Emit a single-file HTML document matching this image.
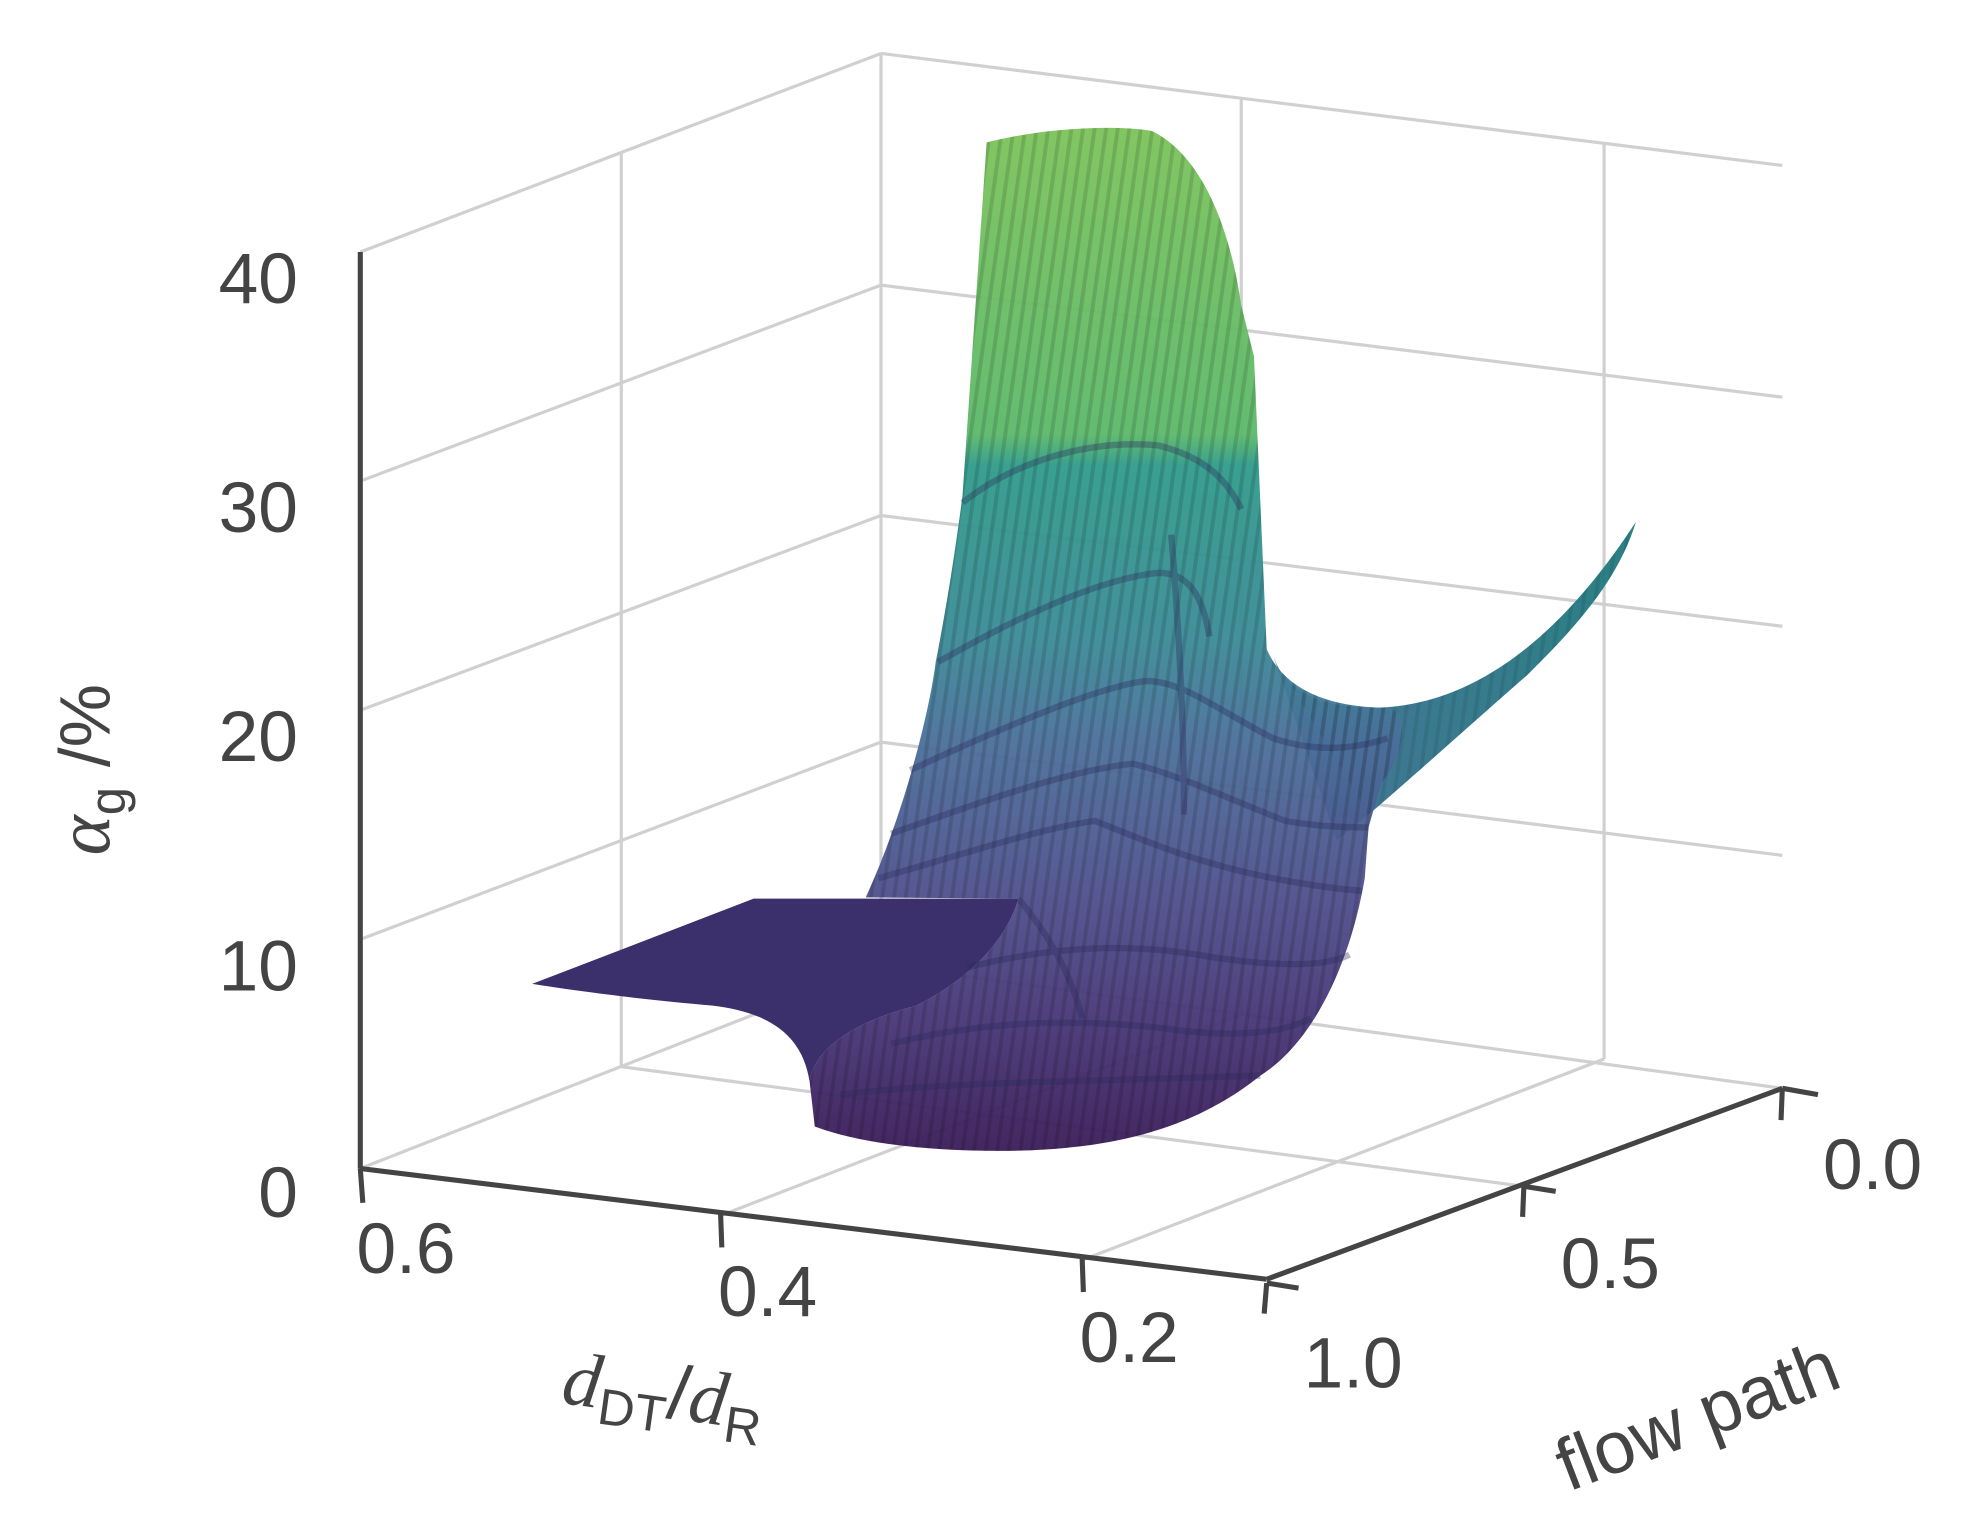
<!DOCTYPE html>
<html><head><meta charset="utf-8"><style>
html,body{margin:0;padding:0;background:#fff}
svg{display:block}
text{font-family:"Liberation Sans",sans-serif;fill:#444}
</style></head><body>
<svg width="1986" height="1530" viewBox="0 0 1560 1202" preserveAspectRatio="none" xmlns="http://www.w3.org/2000/svg">
<defs>
<linearGradient id="g" x1="0" y1="100" x2="0" y2="905" gradientUnits="userSpaceOnUse">
<stop offset="0" stop-color="#7cc35a"/>
<stop offset="0.3" stop-color="#5bb86a"/>
<stop offset="0.33" stop-color="#2f9b8a"/>
<stop offset="0.5" stop-color="#3a8a96"/>
<stop offset="0.6" stop-color="#4a6f9a"/>
<stop offset="0.75" stop-color="#4e4f8c"/>
<stop offset="0.88" stop-color="#463475"/>
<stop offset="1" stop-color="#3a1b58"/>
</linearGradient>
<linearGradient id="w" x1="1000" y1="0" x2="1285" y2="0" gradientUnits="userSpaceOnUse">
<stop offset="0" stop-color="#3d6d92"/><stop offset="1" stop-color="#1f7a7e"/>
</linearGradient>
<pattern id="st" width="9" height="40" patternUnits="userSpaceOnUse" patternTransform="rotate(8)">
<rect width="3" height="40" fill="#000" opacity="0.13"/>
</pattern>
</defs>
<g stroke="#d0d0d0" stroke-width="2.5" fill="none">
<line x1="283" y1="918" x2="692" y2="758"/>
<line x1="283" y1="738" x2="692" y2="583"/>
<line x1="283" y1="558" x2="692" y2="405"/>
<line x1="283" y1="378" x2="692" y2="224"/>
<line x1="283" y1="198" x2="692" y2="42"/>
<line x1="488" y1="120" x2="488" y2="838"/>
<line x1="692" y1="42" x2="692" y2="758"/>
<line x1="692" y1="758" x2="1400" y2="855"/>
<line x1="692" y1="583" x2="1400" y2="672"/>
<line x1="692" y1="405" x2="1400" y2="492"/>
<line x1="692" y1="224" x2="1400" y2="312"/>
<line x1="692" y1="42" x2="1400" y2="130"/>
<line x1="975" y1="78" x2="975" y2="797"/>
<line x1="1260" y1="112" x2="1260" y2="832"/>
<line x1="566" y1="955" x2="975" y2="797"/>
<line x1="850" y1="990" x2="1260" y2="832"/>
<line x1="1197" y1="932" x2="488" y2="838"/>
</g>
<path d="M1000,515 C1010,545 1040,556 1080,556 C1150,555 1220,510 1285,410 C1270,460 1230,500 1200,530 C1160,565 1110,610 1075,640 L1050,660 Z" fill="url(#w)" opacity="0.95"/>
<path d="M775,112 C820,100 880,98 905,103 C940,120 965,170 975,240 L985,280 L995,510 C1010,545 1050,556 1090,556 C1110,560 1100,600 1085,615 L1075,650 L1072,690 C1060,760 1030,820 990,845 C940,885 880,902 800,904 C740,905 680,900 640,885 L636,850 C640,820 680,800 720,790 C760,770 790,740 800,706 L680,705 C710,640 730,560 735,520 C745,470 752,420 756,390 Z" fill="url(#g)" opacity="0.95"/>
<path d="M775,112 C820,100 880,98 905,103 C940,120 965,170 975,240 L985,280 L995,510 C1010,545 1050,556 1090,556 C1110,560 1100,600 1085,615 L1075,650 L1072,690 C1060,760 1030,820 990,845 C940,885 880,902 800,904 C740,905 680,900 640,885 L636,850 C640,820 680,800 720,790 C760,770 790,740 800,706 L680,705 C710,640 730,560 735,520 C745,470 752,420 756,390 Z" fill="url(#st)"/>
<path d="M1000,515 C1010,545 1040,556 1080,556 C1150,555 1220,510 1285,410 C1270,460 1230,500 1200,530 C1160,565 1110,610 1075,640 Z" fill="url(#st)" opacity="0.6"/>
<path d="M418,773 L592,706 L800,706 C790,740 760,770 720,790 C680,800 640,820 636,850 L638,885 L636,850 C630,810 600,795 560,790 C500,785 450,778 418,773 Z" fill="#3b2f6c"/>
<g stroke="#2a2a5a" stroke-width="5" fill="none" opacity="0.35">
<path d="M756,395 C800,360 860,345 910,350 C950,360 965,380 975,400"/>
<path d="M737,520 C790,490 860,455 910,450 C935,450 945,470 950,500"/>
<path d="M715,605 C780,575 860,540 900,535 C930,535 960,560 1000,580 C1030,590 1060,590 1090,580"/>
<path d="M700,655 C770,630 840,605 890,600 C930,610 970,630 1010,645 C1040,650 1060,650 1075,650"/>
<path d="M690,690 C760,670 820,650 860,645 C900,660 960,690 1070,700"/>
<path d="M760,760 C820,745 880,740 940,750 C1000,760 1040,760 1060,750"/>
<path d="M700,820 C780,800 860,800 930,810 C980,815 1010,810 1030,800"/>
<path d="M660,860 C740,850 840,850 990,845"/>
<path d="M800,706 C820,730 840,760 850,800"/>
<path d="M920,420 C925,480 930,560 930,640"/>
</g>
<g stroke="#444" stroke-width="4" fill="none">
<line x1="283" y1="198" x2="283" y2="918"/>
<line x1="283" y1="918" x2="995" y2="1005"/>
<line x1="995" y1="1005" x2="1400" y2="855"/>
<line x1="283" y1="918" x2="285" y2="945"/>
<line x1="566" y1="953" x2="567" y2="980"/>
<line x1="850" y1="988" x2="851" y2="1015"/>
<line x1="995" y1="1008" x2="1020" y2="1012"/>
<line x1="995" y1="1008" x2="993" y2="1032"/>
<line x1="1197" y1="932" x2="1222" y2="936"/>
<line x1="1197" y1="932" x2="1196" y2="956"/>
<line x1="1400" y1="855" x2="1428" y2="860"/>
<line x1="1400" y1="855" x2="1399" y2="880"/>
</g>
<g font-size="56" text-anchor="end">
<text x="234" y="238">40</text>
<text x="234" y="418">30</text>
<text x="234" y="598">20</text>
<text x="234" y="778">10</text>
<text x="234" y="956">0</text>
</g>
<g font-size="56">
<text x="280" y="1000">0.6</text>
<text x="564" y="1034">0.4</text>
<text x="848" y="1070">0.2</text>
<text x="1024" y="1090">1.0</text>
<text x="1226" y="1012">0.5</text>
<text x="1432" y="934">0.0</text>
</g>
<text font-size="58" transform="translate(1232,1172) rotate(-21)">flow path</text>
<text font-size="56" transform="translate(440,1102) rotate(8)"><tspan font-family="Liberation Serif" font-style="italic" font-size="60">d</tspan><tspan font-size="40" dy="12">DT</tspan><tspan dy="-12" font-size="60">/</tspan><tspan font-family="Liberation Serif" font-style="italic" font-size="60">d</tspan><tspan font-size="40" dy="12">R</tspan></text>
<text font-size="56" transform="translate(86,672) rotate(-90)"><tspan font-family="Liberation Serif" font-style="italic" font-size="60">α</tspan><tspan font-size="40" dy="12">g</tspan><tspan dy="-12"> /%</tspan></text>
</svg>
</body></html>
